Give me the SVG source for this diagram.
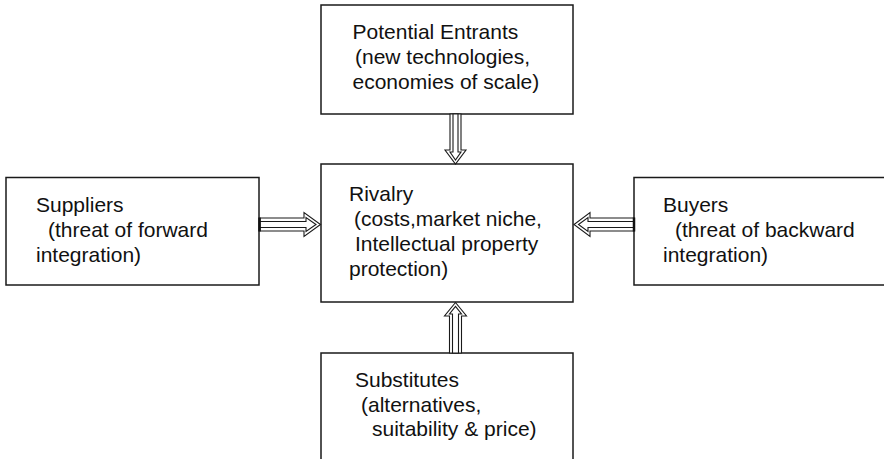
<svg xmlns="http://www.w3.org/2000/svg" width="884" height="459" viewBox="0 0 884 459">
<style>
.box{fill:#fff;stroke:#1a1a1a;stroke-width:1.5}
.lbl{font-family:"Liberation Sans",Arial,Helvetica,sans-serif;font-size:21px;fill:#111}
.arr{fill:#fff;stroke:#1a1a1a;stroke-width:1.1;stroke-linejoin:miter}
.cap{stroke:#111;stroke-width:2.5}
</style>
<rect width="884" height="459" fill="#fff"/>
<g id="node-entrants">
<rect class="box" x="321" y="5" width="252" height="109"/>
<text class="lbl"><tspan x="352.5" y="38.5">Potential Entrants</tspan><tspan x="355" y="63.5">(new technologies,</tspan><tspan x="352.5" y="88.5">economies of scale)</tspan></text>
</g>
<g id="node-rivalry">
<rect class="box" x="321" y="164" width="252" height="138"/>
<text class="lbl"><tspan x="349" y="200.5">Rivalry</tspan><tspan x="354" y="225.5">(costs,market niche,</tspan><tspan x="355" y="250.5">Intellectual property</tspan><tspan x="349" y="275.5">protection)</tspan></text>
</g>
<g id="node-suppliers">
<rect class="box" x="6" y="177.5" width="253" height="107.5"/>
<text class="lbl"><tspan x="36" y="212">Suppliers</tspan><tspan x="48" y="237">(threat of forward</tspan><tspan x="36" y="261.5">integration)</tspan></text>
</g>
<g id="node-buyers">
<rect class="box" x="634" y="177.5" width="270" height="107.5"/>
<text class="lbl"><tspan x="663" y="212">Buyers</tspan><tspan x="675" y="237">(threat of backward</tspan><tspan x="663" y="261.5">integration)</tspan></text>
</g>
<g id="node-substitutes">
<rect class="box" x="321" y="353" width="252" height="130"/>
<text class="lbl"><tspan x="355" y="386.5">Substitutes</tspan><tspan x="361" y="411.5">(alternatives,</tspan><tspan x="372" y="436">suitability &amp; price)</tspan></text>
</g>
<g id="connectors">
<!-- entrants -> rivalry (down) -->
<polygon class="arr" points="450,114 461,114 461,150 466,150 455.5,164 445,150 450,150"/>
<polygon class="arr" points="453,114 458,114 458,152 461,152 455.5,160 450,152 453,152"/>
<!-- substitutes -> rivalry (up) -->
<polygon class="arr" points="449.5,353 461.5,353 461.5,316 466.5,316 455.5,302.5 444.5,316 449.5,316"/>
<polygon class="arr" points="452.5,353 458.5,353 458.5,314 461.5,314 455.5,306.5 449.5,314 452.5,314"/>
<!-- suppliers -> rivalry (right) -->
<polygon class="arr" points="260,218 304,218 304,212.5 320.5,224.5 304,236.5 304,231 260,231"/>
<polygon class="arr" points="260,221.5 306,221.5 306,217.5 316,224.5 306,231.5 306,227.5 260,227.5"/>
<line class="cap" x1="259.5" y1="217.5" x2="259.5" y2="231.5"/>
<!-- buyers -> rivalry (left) -->
<polygon class="arr" points="634,218 590,218 590,212.5 574,224.5 590,236.5 590,231 634,231"/>
<polygon class="arr" points="634,221.5 588,221.5 588,217.5 578.5,224.5 588,231.5 588,227.5 634,227.5"/>
<line class="cap" x1="634" y1="217.5" x2="634" y2="231.5"/>
</g>
</svg>
